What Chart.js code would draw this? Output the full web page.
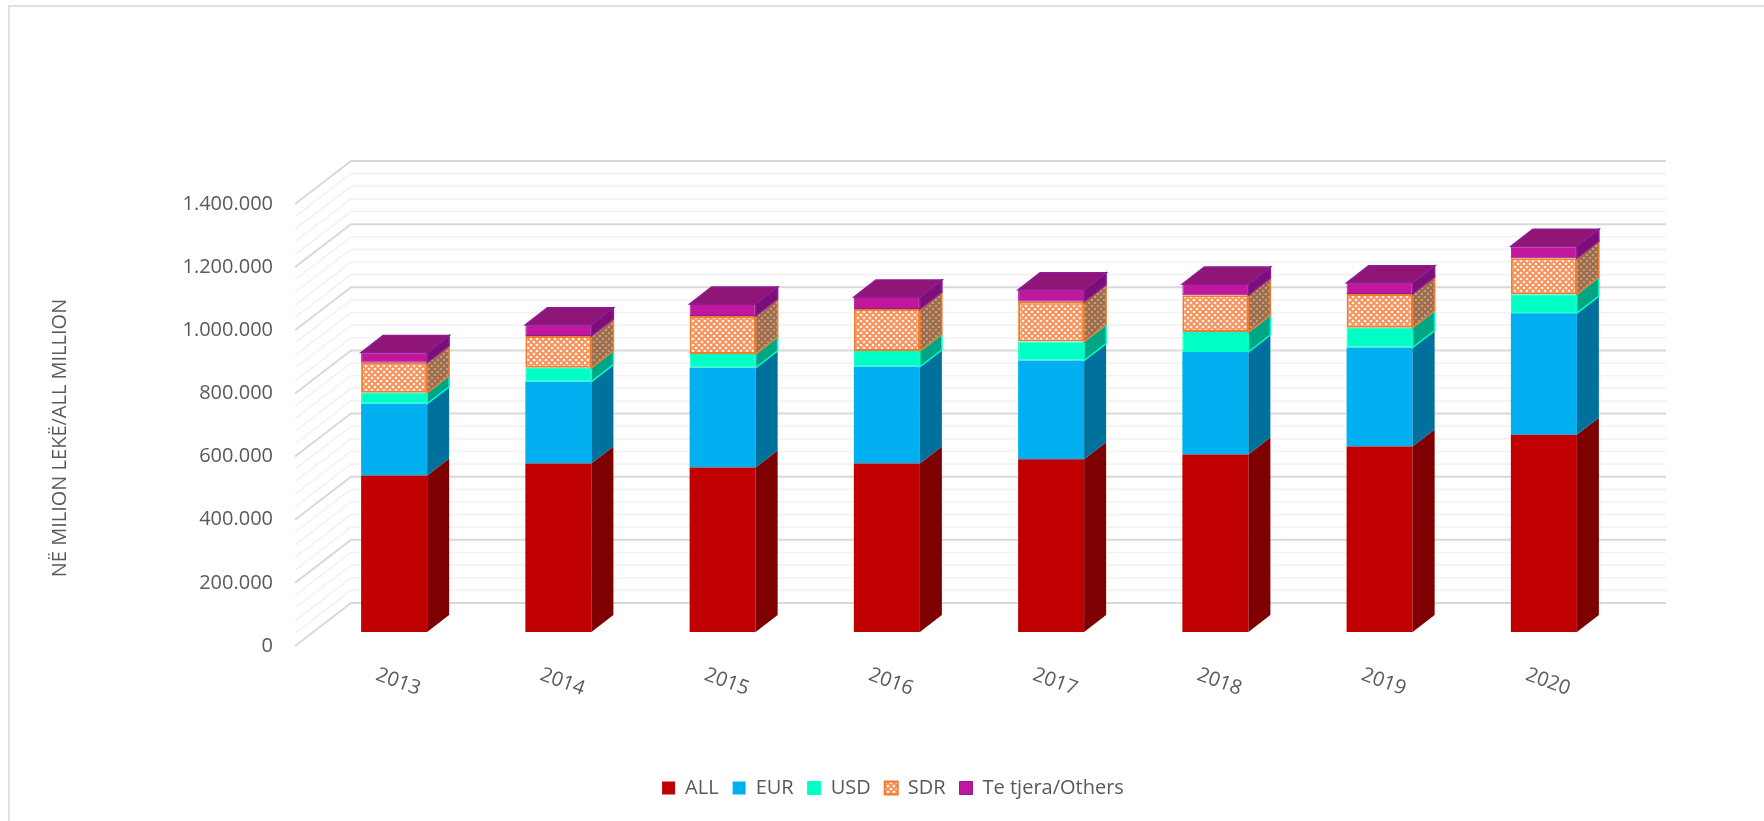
<!DOCTYPE html>
<html>
<head>
<meta charset="utf-8">
<title>Chart</title>
<script src="https://cdn.jsdelivr.net/npm/chart.js@4"></script>
<style>
  html, body { margin: 0; padding: 0; background: #fff; overflow: hidden; }
  #frame { position: absolute; left: 8px; top: 5px; width: 1800px; height: 900px; border: 2px solid #e0e0e0; }
  #chart { position: absolute; left: 0; top: 0; }
</style>
</head>
<body>
<div id="frame"></div>
<canvas id="chart" width="1764" height="821"></canvas>
<script>
// Values in million lek
const years = ['2013', '2014', '2015', '2016', '2017', '2018', '2019', '2020'];
const allValues = [496000, 534000, 521000, 534000, 547000, 562000, 588000, 625000];
const eurValues = [227000, 259000, 316000, 306000, 313000, 325000, 313000, 385000];
const usdValues = [35000, 44000, 44000, 50000, 60000, 63000, 63000, 60000];
const sdrValues = [95000, 101000, 120000, 133000, 126000, 117000, 107000, 114000];
const otherValues = [32000, 35000, 38000, 38000, 38000, 35000, 35000, 38000];

const textColor = '#595959';
const fontName = '"Open Sans", sans-serif';
const yTitle = 'NË MILION LEKË/ALL MILLION';

// bars sit in front of the back wall, this is their fake 3D offset
const barDepth = { x: 22, y: -17 };
const wallDepth = { x: 56, y: -43 };
const wallFrontGap = 17;
const wallRightGap = 40;
// bars start this far above the axis zero, in value units
const barLift = 44247;

function hatch(fg, bg) {
    const c = document.createElement('canvas');
    c.width = 6; c.height = 6;
    const g = c.getContext('2d');
    g.fillStyle = bg;
    g.fillRect(0, 0, 6, 6);
    g.fillStyle = fg;
    const dot = (x, y) => {
        g.beginPath();
        g.moveTo(x, y - 1.6); g.lineTo(x + 1.6, y); g.lineTo(x, y + 1.6); g.lineTo(x - 1.6, y);
        g.closePath(); g.fill();
    };
    dot(3, 3); dot(0, 0); dot(6, 0); dot(0, 6); dot(6, 6);
    return g.createPattern(c, 'repeat');
}

const sdrFront = hatch('#ffffff', '#f8925a');
const sdrSide = hatch('#b0a8a4', '#a4683f');

const sideColors = ['#7f0000', '#00709c', '#00a583', sdrSide, '#7b0f78'];
const topColor = '#8f1577';

function face(ctx, pts, fill, stroke) {
    ctx.beginPath();
    pts.forEach((p, i) => i ? ctx.lineTo(p[0], p[1]) : ctx.moveTo(p[0], p[1]));
    ctx.closePath();
    ctx.fillStyle = fill;
    ctx.fill();
    if (stroke) { ctx.strokeStyle = stroke; ctx.lineWidth = 1.5; ctx.stroke(); }
}

// back wall and left wall gridlines
const wallGrid = {
    id: 'wallGrid',
    beforeDatasetsDraw(chart) {
        const ctx = chart.ctx, y = chart.scales.y, a = chart.chartArea;
        const frontX = a.left - wallFrontGap;
        const backX = frontX + wallDepth.x;
        const rightX = a.right + wallRightGap;
        ctx.save();
        for (let v = 0; v <= 1400000; v += 40000) {
            const major = v % 200000 === 0;
            const py = y.getPixelForValue(v);
            ctx.strokeStyle = major ? '#d9d9d9' : '#f2f2f2';
            ctx.lineWidth = major ? 2 : 1.6;
            ctx.beginPath();
            ctx.moveTo(frontX, py);
            ctx.lineTo(backX, py + wallDepth.y);
            ctx.lineTo(rightX, py + wallDepth.y);
            ctx.stroke();
        }
        ctx.restore();
    }
};

// side and top faces of the columns
const columnFaces = {
    id: 'columnFaces',
    afterDatasetsDraw(chart) {
        const ctx = chart.ctx;
        const last = chart.data.datasets.length - 1;
        ctx.save();
        chart.data.datasets.forEach((ds, i) => {
            chart.getDatasetMeta(i).data.forEach(el => {
                const right = el.x + el.width / 2;
                const left = el.x - el.width / 2;
                const dx = barDepth.x, dy = barDepth.y;
                face(ctx, [[right, el.y], [right + dx, el.y + dy], [right + dx, el.base + dy], [right, el.base]],
                    sideColors[i], ds.borderWidth ? ds.borderColor : null);
                if (i === last) {
                    face(ctx, [[left, el.y], [left + dx, el.y + dy], [right + dx, el.y + dy], [right, el.y]],
                        topColor, ds.borderColor);
                }
            });
        });
        ctx.restore();
    }
};

// slanted year labels and the axis title
const axisText = {
    id: 'axisText',
    afterDraw(chart) {
        const ctx = chart.ctx, x = chart.scales.x, a = chart.chartArea;
        ctx.save();
        ctx.fillStyle = textColor;
        ctx.textAlign = 'center';
        ctx.textBaseline = 'middle';
        ctx.font = '20px ' + fontName;
        years.forEach((label, i) => {
            ctx.save();
            ctx.translate(x.getPixelForTick(i) + 4, a.bottom + 36);
            ctx.rotate(20 * Math.PI / 180);
            ctx.fillText(label, 0, 0);
            ctx.restore();
        });
        ctx.translate(60, 438);
        ctx.rotate(-Math.PI / 2);
        ctx.fillText(yTitle, 0, 0);
        ctx.restore();
    }
};

new Chart(document.getElementById('chart').getContext('2d'), {
    type: 'bar',
    data: {
        labels: years,
        datasets: [
            { label: 'ALL', data: allValues, backgroundColor: '#c00000', borderWidth: 0 },
            { label: 'EUR', data: eurValues, backgroundColor: '#00b0f0', borderWidth: 0 },
            { label: 'USD', data: usdValues, backgroundColor: '#00ffc5', borderColor: '#00ffc5', borderWidth: 1 },
            { label: 'SDR', data: sdrValues, backgroundColor: sdrFront, borderColor: '#ed7d31', borderWidth: 2 },
            { label: 'Te tjera/Others', data: otherValues, backgroundColor: '#c0179c', borderColor: '#8e1a96', borderWidth: 1 }
        ].map(d => Object.assign(d, { yAxisID: 'yBars', barPercentage: 0.402, categoryPercentage: 1, borderSkipped: false }))
    },
    plugins: [wallGrid, columnFaces, axisText],
    options: {
        responsive: false,
        animation: false,
        devicePixelRatio: 1,
        layout: { padding: { left: 160, right: 138, top: 204, bottom: 13 } },
        plugins: {
            tooltip: { enabled: false },
            legend: {
                position: 'bottom',
                labels: {
                    boxWidth: 13, boxHeight: 13, padding: 14,
                    color: textColor,
                    font: { family: fontName, size: 20 }
                }
            }
        },
        scales: {
            x: {
                stacked: true,
                grid: { display: false },
                border: { display: false },
                ticks: { display: false },
                afterFit(s) { s.height = 118; }
            },
            y: {
                position: 'left',
                min: 0, max: 1400000,
                grid: { display: false, drawTicks: false },
                border: { display: false },
                ticks: {
                    stepSize: 200000, padding: 39,
                    color: textColor,
                    font: { family: fontName, size: 20 },
                    callback: v => String(v).replace(/\B(?=(\d{3})+$)/g, '.')
                },
                afterFit(s) { s.width = 152; }
            },
            yBars: {
                display: false,
                stacked: true,
                min: -barLift, max: 1400000 - barLift
            }
        }
    }
});
</script>
</body>
</html>
